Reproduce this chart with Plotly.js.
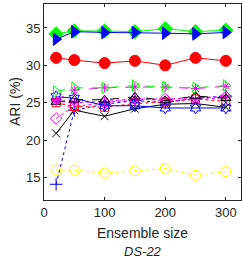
<!DOCTYPE html>
<html><head><meta charset="utf-8">
<script src="https://cdn.plot.ly/plotly-3.0.1.min.js"></script>
<style>body{margin:0;padding:0;background:#fff}#c{width:242px;height:258px}</style>
</head><body><div id="c"></div>
<script>
const ensembleSizes = [20, 50, 100, 150, 200, 250, 300];
const greenDiamond = [34.2, 34.6, 34.6, 34.5, 34.9, 34.5, 34.7];
const blueTriRight = [33.5, 34.5, 34.4, 34.4, 34.3, 34.2, 34.4];
const redCircle = [31.0, 30.7, 30.3, 30.6, 30.0, 31.0, 30.6];
const greenTriOpen = [26.5, 27.0, 27.0, 27.3, 27.1, 27.0, 27.3];
const magentaStarDash = [25.3, 26.7, 27.0, 27.1, 27.1, 26.9, 27.2];
const blackTriDash = [25.1, 25.4, 25.4, 25.8, 25.3, 25.9, 25.6];
const blueHexagram = [25.8, 25.6, 24.6, 24.6, 24.3, 24.3, 24.3];
const blackX = [20.9, 24.0, 23.2, 24.2, 24.8, 24.9, 24.4];
const magentaDiamond = [22.9, 24.5, 25.0, 25.5, 25.5, 25.6, 25.8];
const redSquare = [25.0, 24.5, 24.4, 24.9, 25.1, 25.5, 25.2];
const bluePlus = [14.1, 24.0, 24.8, 25.3, 25.0, 25.6, 25.9];
const yellowCircle = [16.0, 16.0, 15.6, 15.9, 16.2, 15.3, 15.8];
const magentaAsterisk = [25.2, 25.0, 25.2, 25.5, 25.3, 25.4, 25.7];

const xTicks = [0, 100, 200, 300];
const yTicks = [15, 20, 25, 30, 35];
const xLabel = 'Ensemble size';
const yLabel = 'ARI (%)';
const caption = 'DS-22';

function tr(y, color, dash, symbol, size, width) {
  return {x: ensembleSizes, y: y, type: 'scatter', mode: 'lines+markers',
    line: {color: color, dash: dash, width: 1},
    marker: {symbol: symbol, size: size, color: color, line: {color: color, width: width || 1}},
    showlegend: false, cliponaxis: false};
}
const data = [
  tr(yellowCircle, '#ffff00', 'dot', 'circle-open', 10),
  tr(bluePlus, '#0000ff', 'dot', 'cross-thin-open', 9),
  tr(blackX, '#000000', 'solid', 'x-thin-open', 8),
  tr(magentaDiamond, '#ff00ff', 'dot', 'diamond-open', 9),
  tr(redSquare, '#ff0000', 'dot', 'square-open', 8),
  tr(magentaAsterisk, '#ff00ff', 'dot', 'asterisk-open', 8),
  tr(blueHexagram, '#0000ff', 'solid', 'hexagram-open', 9),
  tr(blackTriDash, '#000000', 'dash', 'triangle-up-open', 9),
  tr(magentaStarDash, '#ff00ff', 'dash', 'asterisk-open', 8),
  tr(greenTriOpen, '#00ff00', 'dash', 'triangle-right-open', 10),
  tr(redCircle, '#ff0000', 'solid', 'circle', 11),
  tr(greenDiamond, '#00ff00', 'solid', 'diamond', 11),
  tr(blueTriRight, '#0000ff', 'solid', 'triangle-right', 11)
];
const font = {family: 'Liberation Sans, Arial', color: '#262626'};
const axisCommon = {showgrid: false, zeroline: false, showline: true, mirror: 'ticks',
  linecolor: '#262626', linewidth: 1, ticks: 'inside', ticklen: 3, tickcolor: '#262626',
  tickfont: Object.assign({size: 13}, font)};
const layout = {
  width: 242, height: 258,
  margin: {l: 44, r: 1, t: 4, b: 58},
  paper_bgcolor: '#fff', plot_bgcolor: '#fff',
  xaxis: Object.assign({}, axisCommon, {range: [0, 325], tickvals: xTicks, ticktext: xTicks.map(String)}),
  yaxis: Object.assign({}, axisCommon, {range: [12, 38.2], tickvals: yTicks, ticktext: yTicks.map(String)}),
  annotations: [
    {text: xLabel, xref: 'paper', yref: 'paper', x: 0.5, y: 0, yshift: -33,
     xanchor: 'center', yanchor: 'middle', showarrow: false, font: Object.assign({size: 14}, font)},
    {text: '<i>' + caption + '</i>', xref: 'paper', yref: 'paper', x: 0.5, y: 0, yshift: -51,
     xanchor: 'center', yanchor: 'middle', showarrow: false, font: Object.assign({size: 13}, font)},
    {text: yLabel, xref: 'paper', yref: 'paper', x: 0, xshift: -29, y: 0.5, textangle: -90,
     xanchor: 'center', yanchor: 'middle', showarrow: false, font: Object.assign({size: 14}, font)}
  ]
};
Plotly.newPlot('c', data, layout, {displayModeBar: false, staticPlot: true});
</script></body></html>
